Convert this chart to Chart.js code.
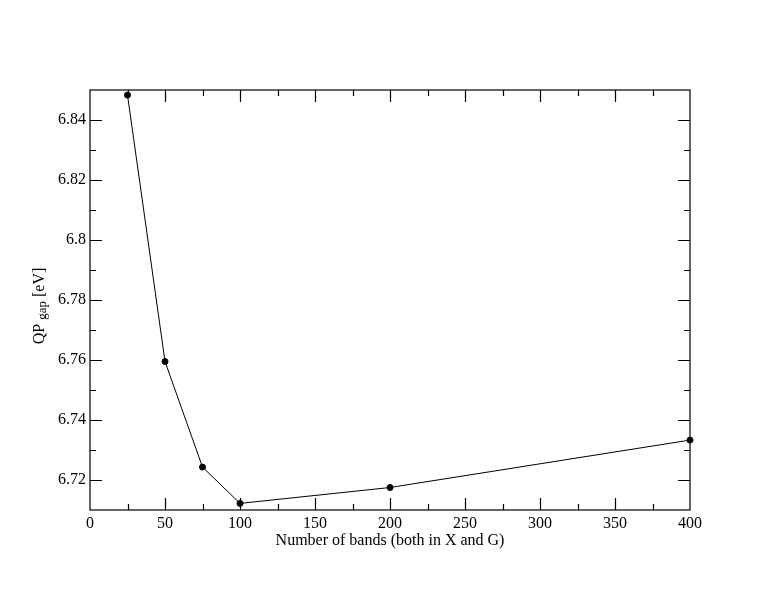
<!DOCTYPE html>
<html>
<head>
<meta charset="utf-8">
<title>QP gap vs number of bands</title>
<script src="https://cdn.jsdelivr.net/npm/chart.js@4.4.1/dist/chart.umd.min.js"></script>
<style>
  html, body { margin: 0; padding: 0; background: #fff; }
  canvas { display: block; }
</style>
</head>
<body>
<canvas id="chart" width="776" height="600"></canvas>
<script>
// data
const bands = [25, 50, 75, 100, 200, 400];
const qpGap = [6.8483, 6.7595, 6.7243, 6.7122, 6.7175, 6.7333];

const xMin = 0, xMax = 400, xStep = 25;
const yMin = 6.71, yMax = 6.85, yStep = 0.01;

const serif = "'Liberation Serif', 'DejaVu Serif', serif";

// frame + inward ticks on all four sides, plus the y title with subscript
const framePlugin = {
  id: "frame",
  afterDraw(chart) {
    const ctx = chart.ctx;
    const a = chart.chartArea;
    const xs = chart.scales.x;
    const ys = chart.scales.y;
    ctx.save();
    ctx.strokeStyle = "#000";
    ctx.lineWidth = 1.2;
    ctx.strokeRect(a.left, a.top, a.right - a.left, a.bottom - a.top);

    ctx.beginPath();
    xs.ticks.forEach(function (t) {
      if (t.value <= xMin || t.value >= xMax) return;
      const px = Math.round(xs.getPixelForValue(t.value)) + 0.5;
      const len = t.value % 50 === 0 ? 12 : 6;
      ctx.moveTo(px, a.bottom); ctx.lineTo(px, a.bottom - len);
      ctx.moveTo(px, a.top); ctx.lineTo(px, a.top + len);
    });
    ys.ticks.forEach(function (t) {
      if (t.value <= yMin + 1e-6 || t.value >= yMax - 1e-6) return;
      const py = Math.round(ys.getPixelForValue(t.value)) + 0.5;
      const len = Math.round(t.value * 100) % 2 === 0 ? 12 : 6;
      ctx.moveTo(a.left, py); ctx.lineTo(a.left + len, py);
      ctx.moveTo(a.right, py); ctx.lineTo(a.right - len, py);
    });
    ctx.stroke();

    // y title: QP_gap [eV]
    ctx.translate(40, (a.top + a.bottom) / 2 + 6);
    ctx.rotate(-Math.PI / 2);
    ctx.fillStyle = "#000";
    ctx.textBaseline = "middle";
    const big = "16px " + serif, small = "13px " + serif;
    ctx.font = big;
    const w1 = ctx.measureText("QP ").width;
    const w3 = ctx.measureText(" [eV]").width;
    ctx.font = small;
    const w2 = ctx.measureText("gap").width;
    let x = -(w1 + w2 + w3) / 2;
    ctx.font = big;
    ctx.fillText("QP ", x, 0);
    x += w1;
    ctx.font = small;
    ctx.fillText("gap", x, 3);
    x += w2;
    ctx.font = big;
    ctx.fillText(" [eV]", x, 0);
    ctx.restore();
  }
};

new Chart(document.getElementById("chart"), {
  type: "line",
  data: {
    datasets: [
      {
        label: "QP gap",
        data: bands.map(function (b, i) { return { x: b, y: qpGap[i] }; }),
        borderColor: "#000",
        borderWidth: 1,
        backgroundColor: "#000",
        pointRadius: 3,
        pointStyle: "circle",
        tension: 0,
        clip: false
      }
    ]
  },
  options: {
    responsive: false,
    animation: false,
    devicePixelRatio: 1,
    layout: { padding: { top: 90, right: 86, left: 0, bottom: 50 } },
    plugins: {
      legend: { display: false },
      tooltip: { enabled: false }
    },
    scales: {
      x: {
        type: "linear",
        min: xMin,
        max: xMax,
        border: { display: false },
        grid: { display: false, drawTicks: false },
        ticks: {
          stepSize: xStep,
          autoSkip: false,
          maxRotation: 0,
          padding: 4,
          color: "#000",
          font: { family: serif, size: 16 },
          callback: function (v) { return v % 50 === 0 ? String(v) : ""; }
        },
        title: {
          display: true,
          text: "Number of bands (both in X and G)",
          color: "#000",
          font: { family: serif, size: 16 },
          padding: { top: 0, bottom: 0 }
        },
        afterFit: function (s) { s.height = 40; }
      },
      y: {
        type: "linear",
        min: yMin,
        max: yMax,
        border: { display: false },
        grid: { display: false, drawTicks: false },
        ticks: {
          stepSize: yStep,
          autoSkip: false,
          padding: 4,
          color: "#000",
          font: { family: serif, size: 16 },
          callback: function (v) {
            const c = Math.round(v * 100);
            if (c % 2 !== 0 || c <= 671 || c >= 685) return "";
            return String(Number((c / 100).toFixed(2)));
          }
        },
        afterFit: function (s) { s.width = 90; }
      }
    }
  },
  plugins: [framePlugin]
});
</script>
</body>
</html>
